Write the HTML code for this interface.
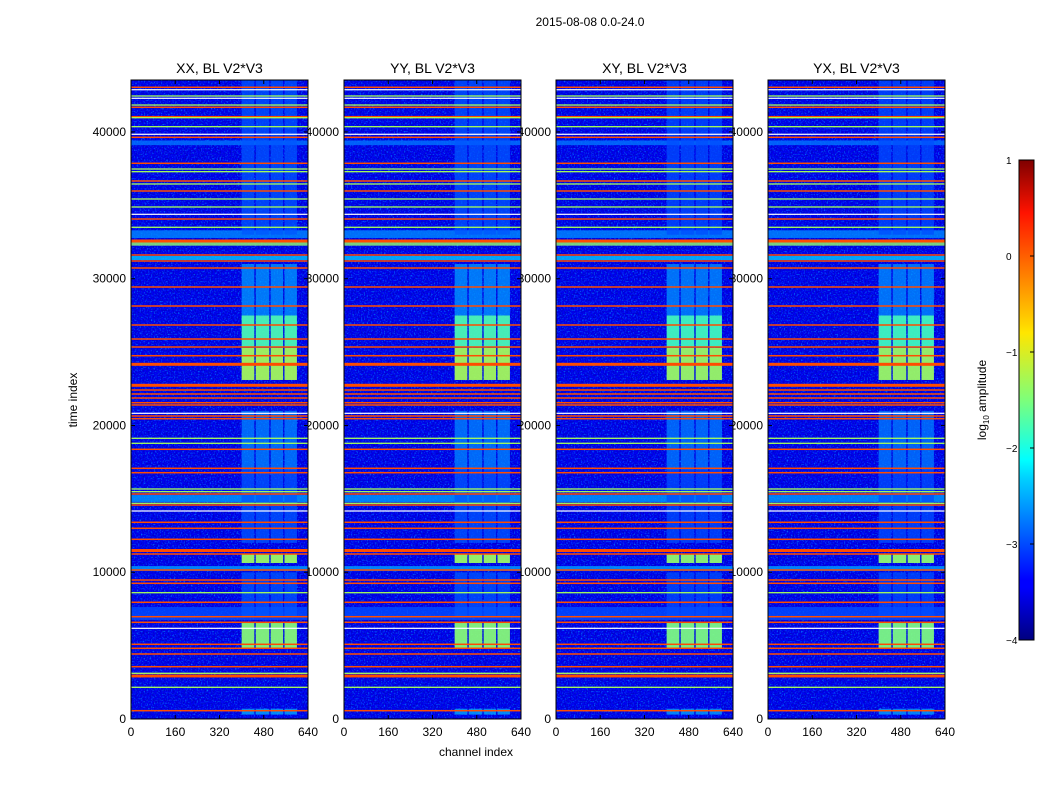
<!DOCTYPE html>
<html><head><meta charset="utf-8"><style>
body{margin:0;background:#fff;font-family:"Liberation Sans",sans-serif;}
svg text{font-family:"Liberation Sans",sans-serif;}
</style></head><body>
<svg id="fig" width="1050" height="800" viewBox="0 0 1050 800" xmlns="http://www.w3.org/2000/svg">
<defs>
<filter id="noise" x="0" y="0" width="100%" height="100%">
<feTurbulence type="fractalNoise" baseFrequency="0.7" numOctaves="1" seed="3"/>
<feColorMatrix type="matrix" values="0 0 0 0 0.0  0 0 0 0 0.35  0 0 0 0 1  2.5 0 0 0 -1.25"/>
</filter>
<filter id="noise2" x="0" y="0" width="100%" height="100%">
<feTurbulence type="fractalNoise" baseFrequency="0.6" numOctaves="1" seed="9"/>
<feColorMatrix type="matrix" values="0 0 0 0 0  0 0 0 0 0  0 0 0 0 0.55  3 0 0 0 -1.3"/>
</filter>
<linearGradient id="jet" x1="0" y1="1" x2="0" y2="0">
<stop offset="0" stop-color="#00007f"/><stop offset="0.11" stop-color="#0000ff"/>
<stop offset="0.125" stop-color="#0000ff"/><stop offset="0.34" stop-color="#00d4ff"/>
<stop offset="0.375" stop-color="#00ffff"/><stop offset="0.5" stop-color="#7dff7a"/>
<stop offset="0.64" stop-color="#ffe600"/><stop offset="0.66" stop-color="#ffd400"/>
<stop offset="0.89" stop-color="#ff1300"/><stop offset="1" stop-color="#7f0000"/>
</linearGradient>
</defs>
<text x="590" y="26" font-size="12" text-anchor="middle">2015-08-08 0.0-24.0</text>
<g id="labels"></g>
<g id="panels"></g>
<text transform="translate(77,400) rotate(-90)" font-size="12" text-anchor="middle">time index</text>
<text x="476" y="756" font-size="12" text-anchor="middle">channel index</text>
<g>
<rect x="1019" y="160" width="15" height="480" fill="url(#jet)" stroke="#000" stroke-width="1"/>
<g id="cbticks"></g>
<text transform="translate(986,400) rotate(-90)" font-size="12" text-anchor="middle">log<tspan font-size="8" dy="3">10</tspan><tspan dy="-3"> amplitude</tspan></text>
</g>
</svg>
<script>
const panelTitles=["XX, BL V2*V3","YY, BL V2*V3","XY, BL V2*V3","YX, BL V2*V3"];
const panelLeft=[131,344,556,768];
const xTicks=[0,160,320,480,640];
const yTicks=[0,10000,20000,30000,40000];
const cbTicks=[1,0,-1,-2,-3,-4];
const backgroundValue=-3.45;
const orangeLines=[43044,41681,41040,39636,37865,36659,35977,34069,32570,31616,31207,30730,29436,28141,26846,25892,25347,24754,24168,22737,22417,22145,21872,21552,21395,20646,20462,18377,17082,16783,15331,14581,13403,12994,12245,11481,11243,10153,9471,9246,7952,6971,6589,5090,4817,4429,3564,2978,2882,566];
const thickOrange=[24168,22737,11481,32570];
const greenLines=[42450,41835,40971,40359,37475,37293,36455,35432,34887,33504,19127,18786,15673,15488,14698,8606,3114,2160];
const whiteLines=[42877,42294,39841,34389,20830,14173,6180];
// bands: [tStart, tEnd, value]
const bands=[[32250,32660,-1.4],[31275,31548,-2.4],[32775,33300,-2.7],[39100,39420,-2.8],[14790,15260,-2.6],[10080,10420,-2.6],[6750,7630,-3.0]];
// channel column blocks [chStart, chEnd]
const columns=[[400,446],[451,500],[505,550],[555,600]];
// time ranges where columns brighter [tStart,tEnd,value]
const colRanges=[[23100,25280,-1.3],[25300,27500,-1.75],[27500,31000,-2.6],[33000,43540,-2.95],[17000,21000,-2.7],[12000,17000,-2.95],[10630,11240,-1.35],[4840,6540,-1.45],[7000,10000,-2.95],[300,700,-2.5]];
const T_MAX=43540, CH_MAX=640, PW=177, PT=80, PB=719;
function jet(v){const t=Math.max(0,Math.min(1,(v+4)/5));const c=x=>Math.round(255*Math.max(0,Math.min(1,1.5-Math.abs(4*t-x))));return `rgb(${c(3)},${c(2)},${c(1)})`;}
const NS="http://www.w3.org/2000/svg";
function el(tag,attrs,parent,txt){const e=document.createElementNS(NS,tag);for(const k in attrs)e.setAttribute(k,attrs[k]);if(txt!==undefined)e.textContent=txt;parent.appendChild(e);return e;}
const yScale=t=>PB-(t/T_MAX)*(PB-PT);
const labelsG=document.getElementById('labels'), panelsG=document.getElementById('panels');
panelLeft.forEach((x0,pi)=>{
  const xScale=c=>x0+(c/CH_MAX)*PW;
  yTicks.forEach(t=>{const tx=el('text',{x:x0-5,y:yScale(t)+4,'font-size':12,'text-anchor':'end'},labelsG,String(t));
    
    });
  xTicks.forEach(c=>{const tx=el('text',{x:xScale(c),y:PB+17,'font-size':12,'text-anchor':'middle'},labelsG,String(c));
    
    });
  const g=el('g',{},panelsG);
  
  
  el('rect',{x:x0,y:PT,width:PW,height:PB-PT,fill:jet(backgroundValue)},g);
  el('rect',{x:x0,y:PT,width:PW,height:PB-PT,filter:'url(#noise)'},g);
  el('rect',{x:x0,y:PT,width:PW,height:PB-PT,filter:'url(#noise2)'},g);
  bands.forEach(b=>{const r=el('rect',{x:x0,y:yScale(b[1]),width:PW,height:yScale(b[0])-yScale(b[1]),fill:jet(b[2]),opacity:0.8},g);
    
    });
  const colBoost=(pi===2||pi===3)?0.05:0;
  columns.forEach(c=>colRanges.forEach(r=>{const rc=el('rect',{x:xScale(c[0]),y:yScale(r[1]),width:xScale(c[1])-xScale(c[0]),height:yScale(r[0])-yScale(r[1]),fill:jet(r[2]-colBoost),opacity:r[2]>-2?0.92:0.75},g);
    
    }));
  const line=(t,col,h,name)=>{const r=el('rect',{x:x0,y:yScale(t)-h/2,width:PW,height:h,fill:col},g);
    
    };
  orangeLines.forEach(t=>line(t,jet(0),thickOrange.includes(t)?3:1.5,'flagged-row'));
  greenLines.forEach(t=>line(t,jet(-1.3),1.3,'bright-row'));
  whiteLines.forEach(t=>line(t,'#ffffff',1.2,'white-row'));
  el('rect',{x:x0,y:PT,width:PW,height:PB-PT,fill:'none',stroke:'#000','stroke-width':1},g);
  xTicks.forEach(c=>{el('line',{x1:xScale(c),x2:xScale(c),y1:PB,y2:PB-4,stroke:'#000'},g);el('line',{x1:xScale(c),x2:xScale(c),y1:PT,y2:PT+4,stroke:'#000'},g);});
  yTicks.forEach(t=>{el('line',{x1:x0,x2:x0+4,y1:yScale(t),y2:yScale(t),stroke:'#000'},g);el('line',{x1:x0+PW,x2:x0+PW-4,y1:yScale(t),y2:yScale(t),stroke:'#000'},g);});
  const tt=el('text',{x:x0+PW/2,y:73,'font-size':14,'text-anchor':'middle'},g,panelTitles[pi]);
  
  
});
const cbG=document.getElementById('cbticks');
cbTicks.forEach(v=>{const y=640-((v+4)/5)*480;
  el('line',{x1:1034,x2:1030,y1:y,y2:y,stroke:'#000'},cbG);
  const t=el('text',{x:1006,y:y+4,'font-size':10,'text-anchor':'start'},cbG,v<0?'\u2212'+(-v):String(v));
  
  });
</script>
</body></html>
